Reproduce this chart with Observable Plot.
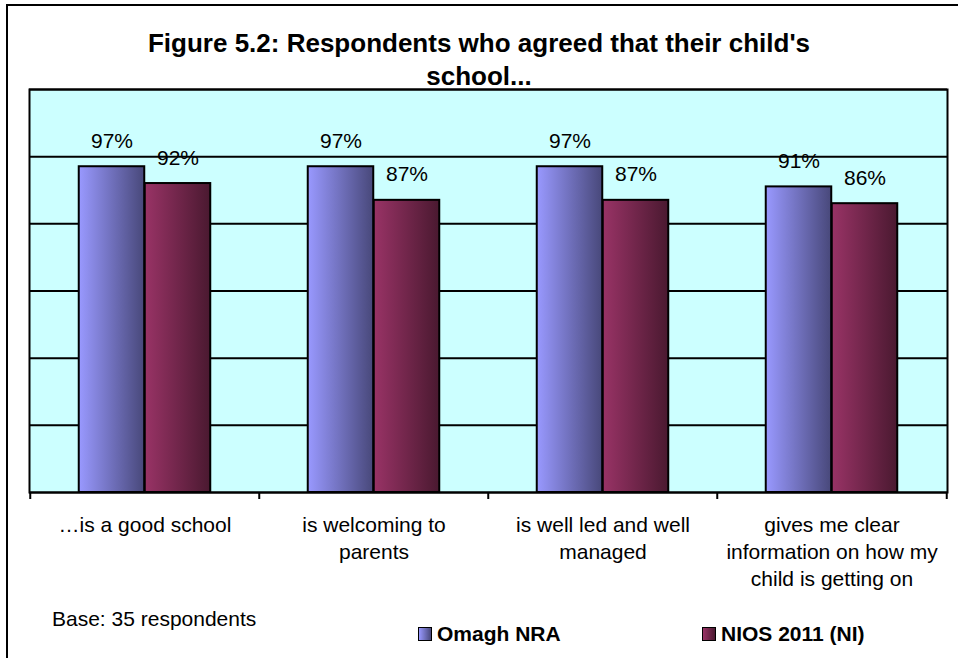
<!DOCTYPE html>
<html>
<head>
<meta charset="utf-8">
<script src="https://cdn.jsdelivr.net/npm/d3@7"></script>
<script src="https://cdn.jsdelivr.net/npm/@observablehq/plot@0.6"></script>
<style>
  html, body { margin: 0; padding: 0; background: #fff; }
  body { font-family: Arial, "Liberation Sans", sans-serif; color: #000; }
  #wrap { position: relative; width: 958px; height: 658px; overflow: hidden; }
  #border { position: absolute; left: 6px; top: 4px; width: 1000px; height: 800px;
            border-left: 2px solid #000; border-top: 2px solid #000; }
  #title { position: absolute; left: 0; top: 27px; width: 958px; text-align: center;
           font-weight: bold; font-size: 26px; line-height: 33px; }
  #chart { position: absolute; left: 0; top: 0; }
  #base { position: absolute; left: 52px; top: 608px; font-size: 21px; line-height: 21px; }
  .leg { position: absolute; top: 623px; font-size: 21px; font-weight: bold; line-height: 21px;
         display: flex; align-items: center; }
  .sw { width: 12px; height: 12px; border: 1.5px solid #000; margin-right: 5px; }
</style>
</head>
<body>
<div id="wrap">
  <div id="border"></div>
  <div id="title"></div>
  <div id="chart"></div>
  <div id="base"></div>
  <div id="leg1" class="leg" style="left:418px"></div>
  <div id="leg2" class="leg" style="left:702px"></div>
</div>
<script>
// ---- data ----
const titleLines = ["Figure 5.2: Respondents who agreed that their child's", "school..."];
const categories = [
  "…is a good school",
  "is welcoming to parents",
  "is well led and well managed",
  "gives me clear information on how my child is getting on"
];
const categoryLabels = [
  "…is a good school",
  "is welcoming to\nparents",
  "is well led and well\nmanaged",
  "gives me clear\ninformation on how my\nchild is getting on"
];
const seriesNames = ["Omagh NRA", "NIOS 2011 (NI)"];
const omaghNRA = [97, 97, 97, 91];
const nios2011 = [92, 87, 87, 86];
const yGrid = [0, 20, 40, 60, 80, 100, 120];
const baseNote = "Base: 35 respondents";

// ---- styles ----
const colOmagh = ["#9999FF", "#48487A"];
const colNios = ["#993366", "#4A1930"];
const band = (947 - 29) / categories.length;
const gap = (band - 132) / 2;

const omaghRows = categories.map((c, i) => ({category: c, value: omaghNRA[i]}));
const niosRows = categories.map((c, i) => ({category: c, value: nios2011[i]}));

const chart = Plot.plot({
  width: 958,
  height: 658,
  marginTop: 89,
  marginBottom: 166,
  marginLeft: 29,
  marginRight: 11,
  x: {domain: categories, padding: 0, axis: null},
  y: {domain: [0, 120], axis: null},
  style: {fontFamily: 'Arial, "Liberation Sans", sans-serif', fontSize: "21px", background: "transparent", color: "#000", overflow: "visible"},
  marks: [
    Plot.frame({fill: "#CCFFFF", stroke: "none"}),
    Plot.ruleY(yGrid, {stroke: "#000", strokeWidth: 2}),
    Plot.barY(omaghRows, {x: "category", y: "value", fill: "url(#gOmagh)", stroke: "#000", strokeWidth: 2,
      insetLeft: gap, insetRight: band - gap - 66}),
    Plot.barY(niosRows, {x: "category", y: "value", fill: "url(#gNios)", stroke: "#000", strokeWidth: 2,
      insetLeft: gap + 66, insetRight: gap}),
    Plot.frame({stroke: "#000", strokeWidth: 2, fill: "none"}),
    Plot.ruleX(categories, {x: d => d, y1: 0, y2: 0, insetBottom: -7, dx: -band / 2, stroke: "#000", strokeWidth: 2}),
    Plot.ruleX(categories.slice(-1), {x: d => d, y1: 0, y2: 0, insetBottom: -7, dx: band / 2, stroke: "#000", strokeWidth: 2}),
    Plot.text(omaghRows, {x: "category", y: "value", text: d => d.value + "%", dx: -33, dy: -19, lineAnchor: "bottom", fontSize: 21, fill: "#000"}),
    Plot.text(niosRows, {x: "category", y: "value", text: d => d.value + "%", dx: 33, dy: -19, lineAnchor: "bottom", fontSize: 21, fill: "#000"}),
    Plot.text(categories, {x: d => d, text: (d, i) => categoryLabels[i], frameAnchor: "bottom", lineAnchor: "top", dy: 21, lineHeight: 1.27, fontSize: 21, fill: "#000"})
  ]
});

// gradients for the bars
const defs = d3.select(chart).insert("defs", ":first-child");
[["gOmagh", colOmagh], ["gNios", colNios]].forEach(([id, cols]) => {
  const g = defs.append("linearGradient").attr("id", id).attr("x1", "0").attr("x2", "1").attr("y1", "0").attr("y2", "0");
  g.append("stop").attr("offset", "0%").attr("stop-color", cols[0]);
  g.append("stop").attr("offset", "100%").attr("stop-color", cols[1]);
});
document.getElementById("chart").appendChild(chart);

document.getElementById("title").innerHTML = titleLines.join("<br>");
document.getElementById("base").textContent = baseNote;
function legend(el, name, cols) {
  const sw = document.createElement("div");
  sw.className = "sw";
  sw.style.background = `linear-gradient(to right, ${cols[0]}, ${cols[1]})`;
  const t = document.createElement("span");
  t.textContent = name;
  el.appendChild(sw); el.appendChild(t);
}
legend(document.getElementById("leg1"), seriesNames[0], colOmagh);
legend(document.getElementById("leg2"), seriesNames[1], colNios);
</script>
</body>
</html>
